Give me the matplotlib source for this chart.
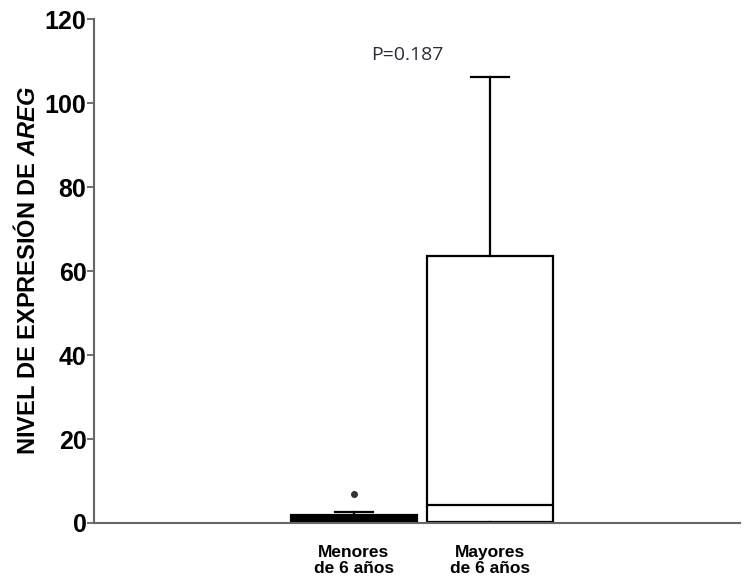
import matplotlib
matplotlib.use("Agg")
import matplotlib.pyplot as plt

plt.rcParams["mathtext.fontset"] = "custom"
plt.rcParams["mathtext.bfit"] = "Liberation Sans:italic:bold"
plt.rcParams["mathtext.it"] = "Liberation Sans:italic:bold"

categories = ["Menores\nde 6 años", "Mayores\nde 6 años"]
whislo = [0.0, 0.0]
q1 = [0.3, 0.3]
med = [1.0, 4.3]
q3 = [1.8, 63.5]
whishi = [2.5, 106.3]
fliers = [[7.0], []]
yticks = [0, 20, 40, 60, 80, 100, 120]

stats = []
for i, c in enumerate(categories):
    stats.append(dict(label=c, whislo=whislo[i], q1=q1[i], med=med[i],
                      q3=q3[i], whishi=whishi[i], fliers=fliers[i]))

fig = plt.figure(figsize=(7.48, 5.82), dpi=100)
ax = fig.add_axes([0.1257, 0.1014, 0.8633, 0.8656])
bp = ax.bxp(stats, positions=[1, 2], widths=0.926, patch_artist=True,
            showcaps=True,
            boxprops=dict(linewidth=1.6, edgecolor="black"),
            whiskerprops=dict(linewidth=1.6, color="black"),
            capprops=dict(linewidth=1.6, color="black"),
            medianprops=dict(linewidth=1.6, color="black"),
            flierprops=dict(marker="o", markersize=4, markerfacecolor="#333333",
                            markeredgecolor="#333333"))
for cap in bp["caps"]:
    x0, x1 = cap.get_xdata()
    c = (x0 + x1) / 2
    cap.set_xdata([c - 0.14, c + 0.14])
bp["boxes"][0].set_facecolor("black")
bp["boxes"][1].set_facecolor("white")

ax.set_xlim(-0.912, 3.838)
ax.set_ylim(0, 120)
ax.set_yticks(yticks)
ax.set_yticklabels([str(t) for t in yticks], fontsize=18, fontweight="bold",
                   family="Liberation Sans")
ax.set_xticks([1, 2])
ax.set_xticklabels(categories, fontsize=12.5, fontweight="bold",
                   family="Liberation Sans", linespacing=1.1)
ax.tick_params(axis="x", length=0, pad=16)
ax.tick_params(axis="y", length=5, width=1.2, color="#555555", pad=0.5)
for s in ["top", "right"]:
    ax.spines[s].set_visible(False)
for s in ["left", "bottom"]:
    ax.spines[s].set_color("#666666")
    ax.spines[s].set_linewidth(1.5)

ax.set_ylabel(r"NIVEL DE EXPRESIÓN DE $\mathit{AREG}$", fontsize=17,
              fontweight="bold", family="Liberation Sans")
ax.yaxis.set_label_coords(-0.084, 0.502)
ax.text(1.39, 111.4, "P=0.187", fontsize=14, color="#2b2b3b",
        family="Open Sans", ha="center", va="center")

fig.savefig("out.png", dpi=100)
